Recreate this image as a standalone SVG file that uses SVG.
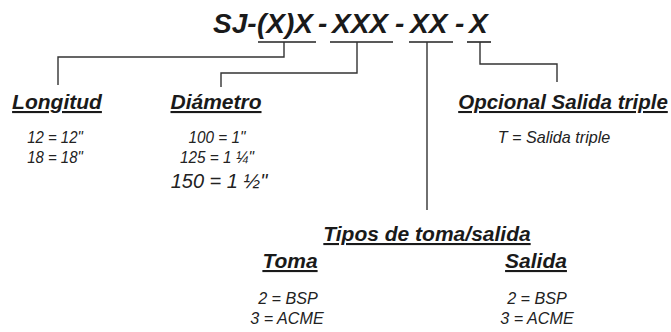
<svg xmlns="http://www.w3.org/2000/svg" width="671" height="332" viewBox="0 0 671 332">
<style>
text{font-family:"Liberation Sans",Arial,sans-serif;font-style:italic;fill:#1a1a1a}
.title{font-size:28px;font-weight:bold}
.h{font-size:21px;font-weight:bold;text-decoration:underline}
.v{font-size:17px;fill:#222}
.ln{fill:none;stroke:#333;stroke-width:1.4}
.ul{stroke:#222;stroke-width:1.6}
</style>
<rect width="671" height="332" fill="#fff"/>
<g id="title">
<text class="title" y="33"><tspan x="213">SJ-</tspan><tspan x="257">(X)X</tspan><tspan x="318">-</tspan><tspan x="332">XXX</tspan><tspan x="395">-</tspan><tspan x="410">XX</tspan><tspan x="455">-</tspan><tspan x="469">X</tspan></text>
</g>
<g id="connectors">
<line class="ul" x1="258" y1="42" x2="316" y2="42"/>
<line class="ul" x1="330" y1="42" x2="393" y2="42"/>
<line class="ul" x1="409" y1="42" x2="453" y2="42" stroke-width="2.2"/>
<line class="ul" x1="467" y1="42" x2="491" y2="42" stroke-width="1.2"/>
<polyline class="ln" points="284,42 284,57 58,57 58,85"/>
<polyline class="ln" points="357,42 357,73 221,73 221,87"/>
<polyline class="ln" points="427,42 427,210"/>
<polyline class="ln" points="480,42 480,64 557,64 557,82"/>
</g>
<g id="longitud">
<text class="h" x="57" y="109" text-anchor="middle">Longitud</text>
<text class="v" transform="translate(55,143) scale(0.88,1)" text-anchor="middle">12 = 12"</text>
<text class="v" transform="translate(55,163) scale(0.88,1)" text-anchor="middle">18 = 18"</text>
</g>
<g id="diametro">
<text class="h" x="216" y="109" text-anchor="middle">Diámetro</text>
<text class="v" transform="translate(217,143) scale(0.9,1)" text-anchor="middle">100 = 1"</text>
<text class="v" transform="translate(217,163) scale(0.9,1)" text-anchor="middle">125 = 1 ¼"</text>
<text class="v" x="219" y="188" text-anchor="middle" style="font-size:20px">150 = 1 ½"</text>
</g>
<g id="opcional">
<text class="h" x="563" y="109" text-anchor="middle" style="font-size:20.5px">Opcional Salida triple</text>
<text class="v" transform="translate(554,143) scale(0.95,1)" text-anchor="middle">T = Salida triple</text>
</g>
<g id="tipos">
<text class="h" x="427" y="241" text-anchor="middle">Tipos de toma/salida</text>
</g>
<g id="toma">
<text class="h" x="290" y="268" text-anchor="middle">Toma</text>
<text class="v" transform="translate(288,304) scale(0.95,1)" text-anchor="middle">2 = BSP</text>
<text class="v" transform="translate(287,324) scale(0.95,1)" text-anchor="middle">3 = ACME</text>
</g>
<g id="salida">
<text class="h" x="536" y="268" text-anchor="middle">Salida</text>
<text class="v" transform="translate(537,304) scale(0.95,1)" text-anchor="middle">2 = BSP</text>
<text class="v" transform="translate(537,324) scale(0.95,1)" text-anchor="middle">3 = ACME</text>
</g>
</svg>
